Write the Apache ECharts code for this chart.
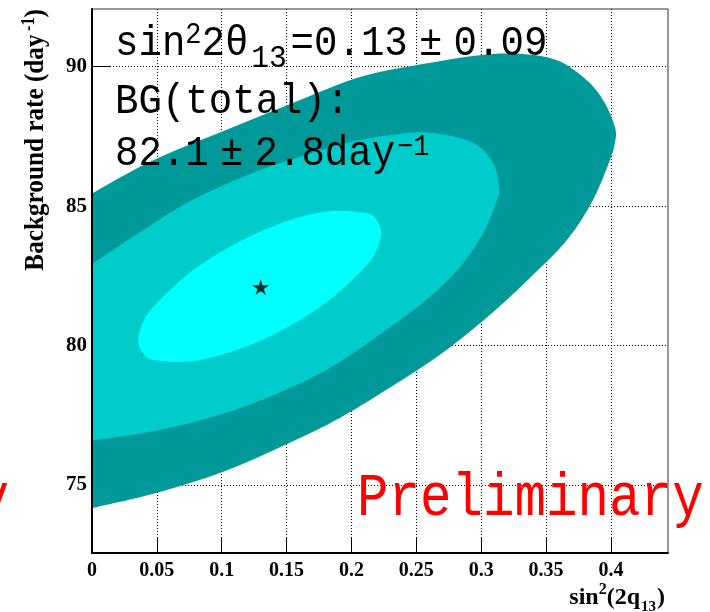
<!DOCTYPE html>
<html><head><meta charset="utf-8">
<script src="https://cdn.jsdelivr.net/npm/echarts@6/dist/echarts.min.js"></script>
<style>html,body{margin:0;padding:0;background:#fff;} #c{width:710px;height:612px;}</style>
</head><body><div id="c"></div>
<script>
// ---- data ----
const xTicks = [0, 0.05, 0.1, 0.15, 0.2, 0.25, 0.3, 0.35, 0.4];
const yTicks = [75, 80, 85, 90];
const xRange = [0, 0.444];
const yRange = [72.56, 92.07];
const bestFit = [0.13, 82.1];
// contour boundaries [sin^2(2theta13), BG rate] (left ends continue past the axis)
const contourOuter = [[-0.03,84.7],[-0.01,85.17],[0.0141,85.83],[0.0526,86.76],[0.1089,87.84],[0.1605,88.81],[0.2067,89.63],[0.2506,90.06],[0.3092,90.46],[0.3530,90.31],[0.3785,89.63],[0.3939,88.81],[0.4031,87.84],[0.4031,87.27],[0.3993,86.66],[0.3862,85.22],[0.3662,83.79],[0.3362,82.36],[0.3015,80.89],[0.2660,79.60],[0.2244,78.34],[0.1913,77.41],[0.1528,76.52],[0.1011,75.47],[0.0503,74.72],[0.001,74.18],[-0.01,74.07],[-0.03,73.95]];
const contourMiddle = [[-0.03,82.0],[-0.01,82.6],[0.001,82.96],[0.0503,84.47],[0.0834,85.36],[0.1220,86.15],[0.1528,86.66],[0.1990,87.30],[0.2375,87.59],[0.2630,87.62],[0.2938,87.27],[0.3092,86.55],[0.3138,85.69],[0.3122,85.22],[0.3015,84.03],[0.2838,82.82],[0.2606,81.75],[0.2375,80.92],[0.1913,79.42],[0.1528,78.48],[0.1011,77.55],[0.0503,76.95],[0.0049,76.62],[-0.01,76.58],[-0.03,76.56]];
const contourInner = [[0.2229,84.04],[0.2197,84.48],[0.2103,84.76],[0.1761,84.78],[0.1293,84.08],[0.0825,82.86],[0.0482,81.44],[0.0388,80.77],[0.0357,80.20],[0.0388,79.76],[0.0482,79.48],[0.0825,79.47],[0.1293,80.16],[0.1761,81.39],[0.2103,82.80],[0.2197,83.47]];
const contours = [contourOuter, contourMiddle, contourInner];
const contourColors = ['#009999', '#00CCCC', '#00FFFF'];

const chart = echarts.init(document.getElementById('c'), null, {renderer: 'canvas'});
const serif = '"Liberation Serif", "Times New Roman", serif';
const mono = '"Liberation Mono", monospace';
const S = 42;
const starPath = 'path://M50,0 L61,35 L98,35 L68,57 L79,91 L50,70 L21,91 L32,57 L2,35 L39,35 Z';

// closed smooth outline through the traced pixel points (Catmull-Rom as cubic Beziers)
function smoothClosedPath(pts) {
  const n = pts.length;
  const f = v => v.toFixed(2);
  let d = 'M' + f(pts[0][0]) + ' ' + f(pts[0][1]);
  for (let i = 0; i < n; i++) {
    const p0 = pts[(i - 1 + n) % n], p1 = pts[i], p2 = pts[(i + 1) % n], p3 = pts[(i + 2) % n];
    const c1 = [p1[0] + (p2[0] - p0[0]) / 6, p1[1] + (p2[1] - p0[1]) / 6];
    const c2 = [p2[0] - (p3[0] - p1[0]) / 6, p2[1] - (p3[1] - p1[1]) / 6];
    d += 'C' + f(c1[0]) + ' ' + f(c1[1]) + ' ' + f(c2[0]) + ' ' + f(c2[1]) + ' ' + f(p2[0]) + ' ' + f(p2[1]);
  }
  return d + 'Z';
}

const option = {
  animation: false,
  backgroundColor: '#fff',
  grid: {left: 92, top: 9, right: 42, bottom: 59, show: true, borderColor: '#333', borderWidth: 1},
  xAxis: {
    type: 'value', min: xRange[0], max: xRange[1],
    axisLine: {show: true, lineStyle: {color: '#000', width: 2}},
    axisTick: {show: true, inside: true, length: 16, customValues: xTicks, lineStyle: {color: '#000', width: 1}},
    axisLabel: {customValues: xTicks, margin: 8, color: '#000', fontFamily: serif, fontWeight: 'bold', fontSize: 20},
    splitLine: {show: true, lineStyle: {color: '#000', width: 1, type: [1, 2]}}
  },
  yAxis: {
    type: 'value', min: yRange[0], max: yRange[1],
    axisLine: {show: true, lineStyle: {color: '#000', width: 2}},
    axisTick: {show: true, inside: true, length: 18, customValues: yTicks, lineStyle: {color: '#000', width: 1}},
    axisLabel: {customValues: yTicks, margin: 5, color: '#000', fontFamily: serif, fontWeight: 'bold', fontSize: 21},
    splitLine: {show: true, lineStyle: {color: '#000', width: 1, type: [1, 2]}}
  },
  series: [
    {
      type: 'custom',
      data: contours.map((c, i) => [i]),
      silent: true,
      renderItem: function (params, api) {
        const i = params.dataIndex;
        const pts = contours[i].map(p => api.coord(p));
        const cs = params.coordSys;
        return {
          type: 'path',
          shape: {pathData: smoothClosedPath(pts)},
          style: {fill: contourColors[i]},
          clipPath: {type: 'rect', shape: {x: cs.x + 1, y: cs.y, width: cs.width - 1, height: cs.height}}
        };
      }
    },
    {
      type: 'scatter', data: [bestFit], symbol: starPath, symbolSize: [17, 16],
      itemStyle: {color: '#000'}, silent: true, z: 5
    }
  ],
  graphic: [
    {
      type: 'text', x: 115, y: 21, scaleX: 0.93, z: 100,
      style: {
        text: '{a|sin}{sup|2}{a|2θ}{sub|13}{a|=0.13}{pm|±}{a|0.09}',
        align: 'left', verticalAlign: 'top',
        rich: {
          a: {fontFamily: mono, fontSize: S, fill: '#000', verticalAlign: 'bottom', padding: [0, 0, 10, 0]},
          pm: {fontFamily: mono, fontSize: S, fill: '#000', verticalAlign: 'bottom', padding: [0, 12, 10, 12]},
          sup: {fontFamily: mono, fontSize: 29, fill: '#000', verticalAlign: 'bottom', padding: [0, 0, 25, 0]},
          sub: {fontFamily: mono, fontSize: 32, fill: '#000', verticalAlign: 'bottom', padding: [0, 4, 0, 3]}
        }
      }
    },
    {
      type: 'text', x: 115, y: 81, scaleX: 0.93, z: 100,
      style: {
        text: '{a|BG(total):}', align: 'left', verticalAlign: 'top',
        rich: {a: {fontFamily: mono, fontSize: S, fill: '#000', verticalAlign: 'bottom'}}
      }
    },
    {
      type: 'text', x: 115, y: 133, scaleX: 0.93, z: 100,
      style: {
        text: '{a|82.1}{pm|±}{a|2.8day}{sup|−1}', align: 'left', verticalAlign: 'top',
        rich: {
          a: {fontFamily: mono, fontSize: S, fill: '#000', verticalAlign: 'bottom'},
          pm: {fontFamily: mono, fontSize: S, fill: '#000', verticalAlign: 'bottom', padding: [0, 12, 0, 12]},
          sup: {fontFamily: mono, fontSize: 29, fill: '#000', verticalAlign: 'bottom', padding: [0, 0, 13, 2]}
        }
      }
    },
    {
      type: 'text', x: 357, y: 468, scaleX: 0.847, z: 100,
      style: {
        text: '{a|Preliminary}', align: 'left', verticalAlign: 'top',
        rich: {a: {fontFamily: mono, fontSize: 62, fill: '#FF0000', verticalAlign: 'bottom'}}
      }
    },
    {
      type: 'text', x: 9, y: 468, scaleX: 0.847, z: 100,
      style: {
        text: '{a|Preliminary}', align: 'right', verticalAlign: 'top',
        rich: {a: {fontFamily: mono, fontSize: 62, fill: '#FF0000', verticalAlign: 'bottom'}}
      }
    },
    {
      type: 'text', x: 665, y: 582, z: 100,
      style: {
        text: '{a|sin}{sup|2}{a|(2q}{sub|13}{a|)}', align: 'right', verticalAlign: 'top',
        rich: {
          a: {fontFamily: serif, fontWeight: 'bold', fontSize: 24, fill: '#000', verticalAlign: 'bottom', padding: [0, 0, 5, 0]},
          sup: {fontFamily: serif, fontWeight: 'bold', fontSize: 16, fill: '#000', verticalAlign: 'bottom', padding: [0, 0, 17, 0]},
          sub: {fontFamily: serif, fontWeight: 'bold', fontSize: 15, fill: '#000', verticalAlign: 'bottom', padding: [0, 1, 0, 1]}
        }
      }
    },
    {
      type: 'text', x: 35, y: 9, rotation: Math.PI / 2, scaleX: 0.9, z: 100,
      style: {
        text: '{a|Background rate (day}{sup|-1}{a|)}', align: 'right', verticalAlign: 'middle',
        rich: {
          a: {fontFamily: serif, fontWeight: 'bold', fontSize: 28, fill: '#000', verticalAlign: 'bottom'},
          sup: {fontFamily: serif, fontWeight: 'bold', fontSize: 18, fill: '#000', verticalAlign: 'bottom', padding: [0, 0, 12, 4]}
        }
      }
    }
  ]
};
chart.setOption(option);
</script>
</body></html>
